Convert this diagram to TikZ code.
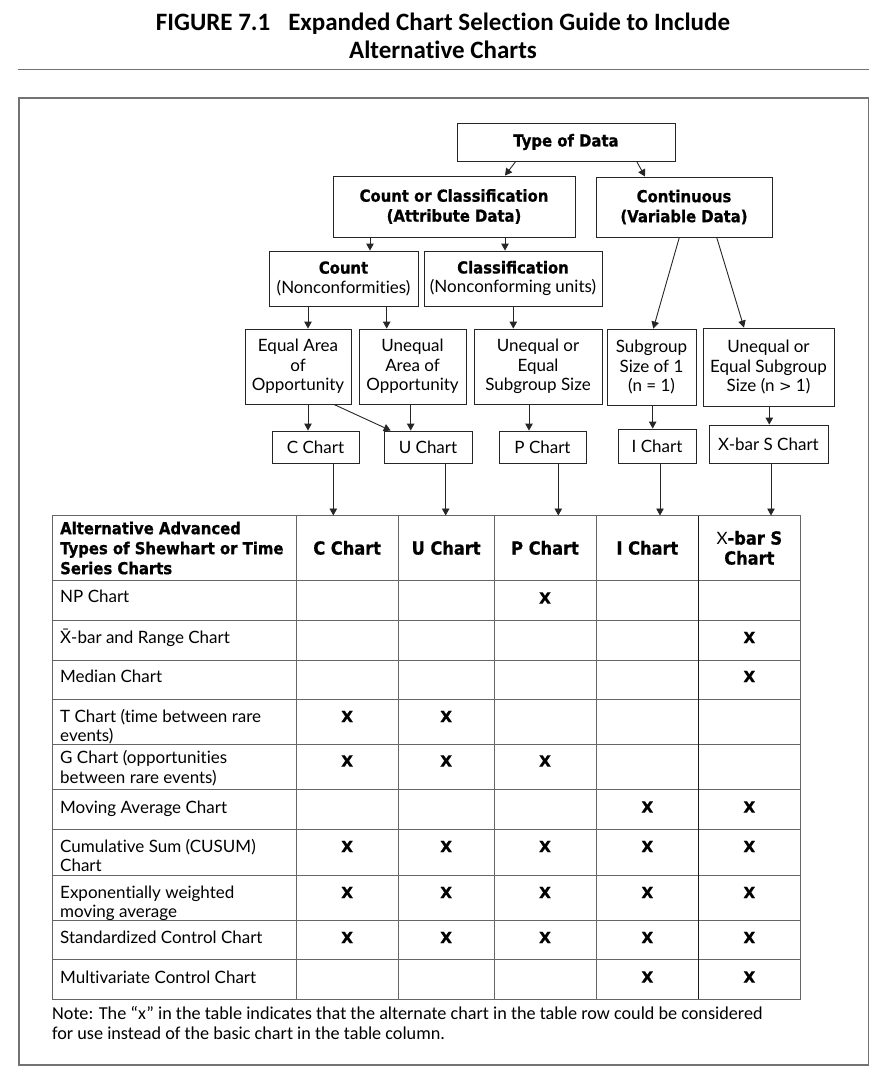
\documentclass[tikz,border=0pt]{standalone}
\usepackage{fontspec}
\usetikzlibrary{arrows.meta}
\setmainfont{Lato}[Ligatures={NoCommon}]
\newfontfamily\hvyfont{DejaVu Sans}[FakeStretch=0.9,BoldFeatures={FakeBold=0.8}]
\newfontfamily\markfont{DejaVu Sans}[BoldFeatures={FakeBold=0.8}]
\newfontfamily\carlfont{Carlito}[Ligatures={NoCommon}]
\newcommand\rg{\fontsize{17}{19.5}\selectfont}
\newcommand\bd{\hvyfont\bfseries\fontsize{16.5}{20}\selectfont}
\newcommand\hb{\hvyfont\bfseries\fontsize{18}{20}\selectfont}
\newcommand\xb{\markfont\bfseries\fontsize{15.5}{16}\selectfont}
\newcommand\tb{\carlfont\bfseries\fontsize{25}{28}\selectfont}
\newcommand\nt{\carlfont\fontsize{18.2}{20}\selectfont}
\begin{document}
\begin{tikzpicture}[x=1pt,y=-1pt,
  box/.style={draw=black!85,line width=0.9pt,inner sep=0pt,align=center,fill=white,font=\rg},
  arr/.style={draw=black!85,line width=0.9pt,-{Triangle[length=7pt,width=7.5pt]}},
  gridline/.style={draw=black!60,line width=0.9pt},
  rowtxt/.style={inner sep=0pt,anchor=north west,align=left,font=\rg},
  hdr/.style={inner sep=0pt,align=center,font=\hb},
  mk/.style={inner sep=0pt,font=\xb}]
\useasboundingbox (0,0) rectangle (884,1082);
\fill[white] (0,0) rectangle (884,1082);
% title
\node[font=\tb,anchor=base,inner sep=0pt] (t1) at (443,30) {FIGURE 7.1\hspace{18pt}Expanded Chart Selection Guide to Include};
\node[font=\tb,anchor=base,inner sep=0pt] (t2) at (443,58) {Alternative Charts};
\draw[draw=black!55,line width=1.6pt] (18,69.3) -- (868.7,69.3);
\draw[draw=black!55,line width=1.6pt] (18.7,97.7) rectangle (868.3,1064.7);
% tree
\node[box,font=\bd,minimum width=218pt,minimum height=38pt] (type) at (566,142) {Type of Data};
\node[box,font=\bd,minimum width=242pt,minimum height=61pt] (cc) at (454,206.5) {Count or Classification\\(Attribute Data)};
\node[box,font=\bd,minimum width=176pt,minimum height=60pt] (cont) at (684,207) {Continuous\\(Variable Data)};
\node[box,minimum width=149pt,minimum height=55pt] (count) at (343.5,278.5) {{\bd Count}\\(Nonconformities)};
\node[box,minimum width=178pt,minimum height=55pt] (class) at (513,278.5) {{\bd Classification}\\(Nonconforming units)};
\node[box,minimum width=106pt,minimum height=75pt] (eq) at (298,366.5) {Equal Area\\of\\Opportunity};
\node[box,minimum width=107pt,minimum height=75pt] (uneq) at (412.5,366.5) {Unequal\\Area of\\Opportunity};
\node[box,minimum width=128pt,minimum height=75pt] (ues) at (538,366.5) {Unequal or\\Equal\\Subgroup Size};
\node[box,minimum width=89pt,minimum height=76pt] (sg1) at (651.5,367) {Subgroup\\Size of 1\\(n = 1)};
\node[box,minimum width=131pt,minimum height=78pt] (ues2) at (768.5,367) {Unequal or\\Equal Subgroup\\Size (n {\markfont\fontsize{15}{19}\selectfont >} 1)};
\node[box,minimum width=87pt,minimum height=32pt] (cch) at (315.5,447) {C Chart};
\node[box,minimum width=88pt,minimum height=32pt] (uch) at (428,447) {U Chart};
\node[box,minimum width=87pt,minimum height=32pt] (pch) at (542.5,447) {P Chart};
\node[box,minimum width=78pt,minimum height=34pt] (ich) at (657,446) {I Chart};
\node[box,minimum width=119pt,minimum height=38pt] (xch) at (768.5,444) {X-bar S Chart};
% tree arrows
\draw[arr] (type.south -| 515.7,0) -- (cc.north -| 505,0);
\draw[arr] (type.south -| 636.7,0) -- (cont.north -| 645,0);
\draw[arr] (cc.south -| 370,0) -- (count.north -| 370,0);
\draw[arr] (cc.south -| 505,0) -- (class.north -| 505,0);
\draw[arr] (count.south -| 308,0) -- (eq.north -| 308,0);
\draw[arr] (count.south -| 386.7,0) -- (uneq.north -| 386.7,0);
\draw[arr] (class.south -| 513.3,0) -- (ues.north -| 513.3,0);
\draw[arr] (cont.south -| 679.3,0) -- (sg1.north -| 653.3,0);
\draw[arr] (cont.south -| 716.7,0) -- (ues2.north -| 744,0);
\draw[arr] (eq.south -| 308,0) -- (cch.north -| 308,0);
\draw[arr] (eq.south -| 334,0) -- (uch.north -| 390.7,0);
\draw[arr] (uneq.south -| 410.7,0) -- (uch.north -| 410.7,0);
\draw[arr] (ues.south -| 529,0) -- (pch.north -| 529,0);
\draw[arr] (sg1.south -| 652.7,0) -- (ich.north -| 652.7,0);
\draw[arr] (ues2.south -| 769.3,0) -- (xch.north -| 769.3,0);
% table grid
\foreach \yy in {580,620,660,699.5,744.5,789.5,829.5,875,920,959.5}
  \draw[gridline] (52.3,\yy) -- (800,\yy);
\foreach \xx in {296,398.3,494,596}
  \draw[gridline] (\xx,515.7) -- (\xx,999.5);
\draw[draw=black!90,line width=0.9pt] (698.7,515.7) -- (698.7,999.5);
\draw[gridline] (52.3,515.7) rectangle (800,999.5);
% header
\node[inner sep=0pt,anchor=north west,align=left,font=\bd] (hA) at (60,520) {\strut Alternative Advanced\\Types of Shewhart or Time\\Series Charts};
\node[hdr,minimum width=102.3pt,minimum height=64.3pt] (hC) at (347.15,547.85) {C Chart};
\node[hdr,minimum width=95.7pt,minimum height=64.3pt] (hU) at (446.15,547.85) {U Chart};
\node[hdr,minimum width=102pt,minimum height=64.3pt] (hP) at (545,547.85) {P Chart};
\node[hdr,minimum width=102.7pt,minimum height=64.3pt] (hI) at (647.35,547.85) {I Chart};
\node[hdr,minimum width=101.3pt,minimum height=64.3pt] (hX) at (749.35,547.85) {{\normalfont\rg X}-bar S\\Chart};
% arrows into table
\draw[arr] (cch.south -| 333.3,0) -- (hC.north -| 333.3,0);
\draw[arr] (uch.south -| 445.7,0) -- (hU.north -| 445.7,0);
\draw[arr] (pch.south -| 558.3,0) -- (hP.north -| 558.3,0);
\draw[arr] (ich.south -| 660,0) -- (hI.north -| 660,0);
\draw[arr] (xch.south -| 771,0) -- (hX.north -| 771,0);
% rows
\node[rowtxt] (r1) at (60,597-8) {\strut NP Chart};
\node[rowtxt] (r2) at (60,637-8) {\strut \={X}-bar and Range Chart};
\node[rowtxt] (r3) at (60,676.5-8) {\strut Median Chart};
\node[rowtxt] (r4) at (60,716.5-8) {\strut T Chart (time between rare\\events)};
\node[rowtxt] (r5) at (60,758-8) {\strut G Chart (opportunities\\between rare events)};
\node[rowtxt] (r6) at (60,807.5-8) {\strut Moving Average Chart};
\node[rowtxt] (r7) at (60,846.5-8) {\strut Cumulative Sum (CUSUM)\\Chart};
\node[rowtxt] (r8) at (60,892.5-8) {\strut Exponentially weighted\\moving average};
\node[rowtxt] (r9) at (60,937.5-8) {\strut Standardized Control Chart};
\node[rowtxt] (r10) at (60,977.5-8) {\strut Multivariate Control Chart};
% marks
\node[mk] (m1p) at (545,598) {X};
\node[mk] (m2x) at (749.35,637.5) {X};
\node[mk] (m3x) at (749.35,676.5) {X};
\foreach \cx/\nm in {347.15/c,446.15/u}
  \node[mk] (m4\nm) at (\cx,716.5) {X};
\foreach \cx/\nm in {347.15/c,446.15/u,545/p}
  \node[mk] (m5\nm) at (\cx,761) {X};
\foreach \cx/\nm in {647.35/i,749.35/x}
  \node[mk] (m6\nm) at (\cx,807) {X};
\foreach \cx/\nm in {347.15/c,446.15/u,545/p,647.35/i,749.35/x}{
  \node[mk] (m7\nm) at (\cx,846.5) {X};
  \node[mk] (m8\nm) at (\cx,892.5) {X};
  \node[mk] (m9\nm) at (\cx,937.5) {X};}
\foreach \cx/\nm in {647.35/i,749.35/x}
  \node[mk] (m10\nm) at (\cx,977) {X};
% note
\node[font=\nt,anchor=base west,inner sep=0pt] (n1) at (52,1019.5) {Note: The “x” in the table indicates that the alternate chart in the table row could be considered};
\node[font=\nt,anchor=base west,inner sep=0pt] (n2) at (52,1039.5) {for use instead of the basic chart in the table column.};
\end{tikzpicture}
\end{document}
